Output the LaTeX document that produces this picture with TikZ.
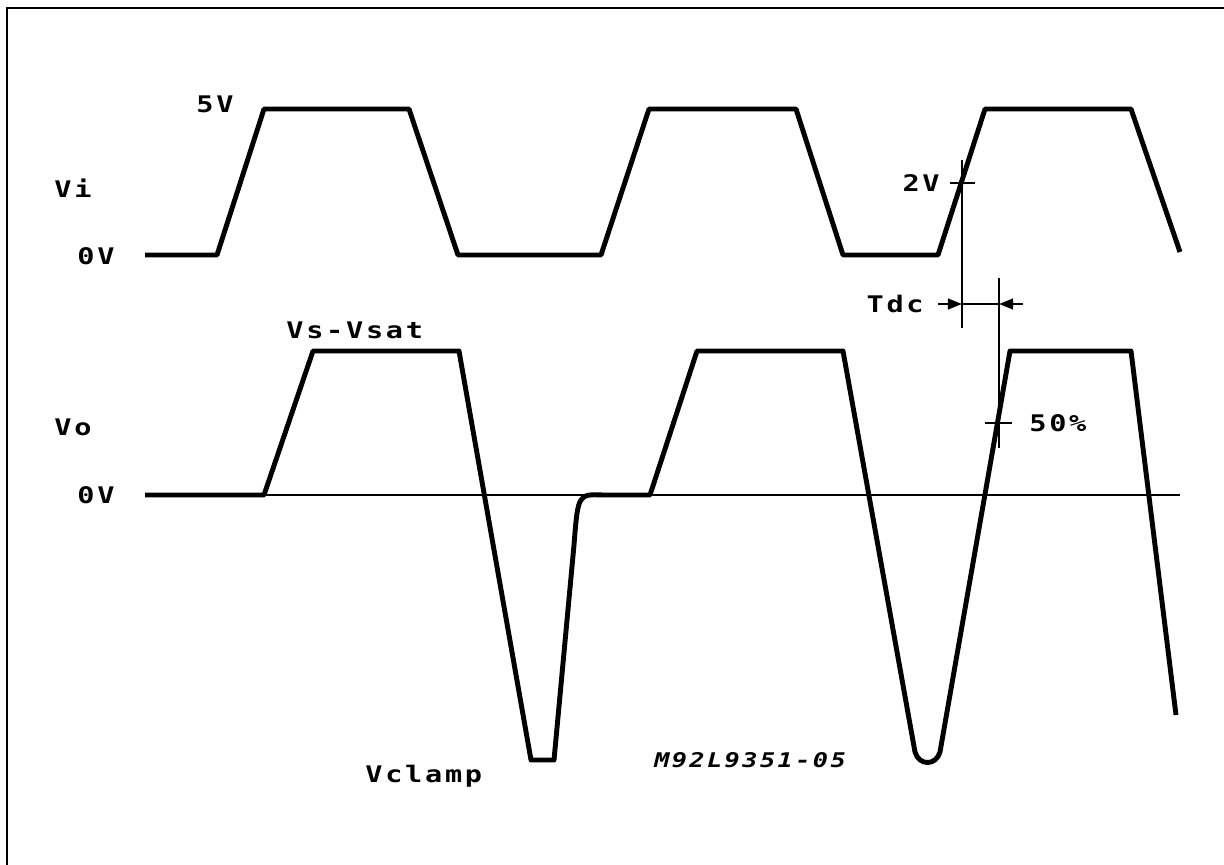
\documentclass[tikz,border=0pt]{standalone}
\usepackage{fontspec}
\newfontfamily\plotfont[LetterSpace=12, FakeStretch=1.25]{DejaVu Sans Mono}
\usetikzlibrary{arrows.meta, positioning}

\begin{document}
\begin{tikzpicture}[
  x=0.02cm, y=-0.02cm,
  wave/.style={line width=2.8pt, line join=round},
  thinline/.style={line width=1.4pt},
  marker/.style={line width=1.4pt},
  lbl/.style={font=\plotfont\bfseries\fontsize{13}{13}\selectfont, inner sep=0pt},
  refcode/.style={font=\plotfont\bfseries\itshape\fontsize{11.5}{11.5}\selectfont, inner sep=0pt}
]
\useasboundingbox (0,0) rectangle (1224,865);

% frame
\draw[line width=1.7pt] (1224,8) -- (7,8) -- (7,865);

% input Vi
\draw[wave] (145,255) -- (217,255) -- (264,109) -- (409,109) -- (458,255)
  -- (601,255) -- (649,109) -- (796,109) -- (843,255)
  -- (938,255) -- (985,109) -- (1131,109) -- (1180,252);

% output Vo
\draw[thinline] (145,495) -- (1180,495);
\draw[wave] (145,495) -- (264,495) -- (313,351) -- (459,351) -- (531,760) -- (554,760)
  -- (574,545) .. controls (578,494) .. (603,495) -- (650,495)
  -- (697,351) -- (843,351) -- (915,752)
  .. controls (919,766) and (936,766) .. (940,752)
  -- (1010,351) -- (1131,351) -- (1176,715);

% delay markers
\coordinate (top2V) at (962,160);
\coordinate (bot2V) at (962,328);
\coordinate (top50) at (999,278);
\coordinate (bot50) at (999,448);
\draw[marker] (top2V) -- (bot2V);
\draw[marker] (top50) -- (bot50);
\draw[marker] (950,183) -- (975,183);
\draw[marker] (985,423) -- (1012,423);

\coordinate (tdcL) at (938,304);
\coordinate (tdcR) at (1023,304);
\draw[marker, -{Triangle[length=8pt, width=6pt]}] (tdcL) -- (top2V |- tdcL);
\draw[marker] (top2V |- tdcL) -- (top50 |- tdcL);
\draw[marker, -{Triangle[length=8pt, width=6pt]}] (tdcR) -- (top50 |- tdcR);

% labels
\node[lbl, anchor=west] (vi) at (54,188) {Vi};
\node[lbl, anchor=west] (zeroi) at (77,256) {0V};
\node[lbl, anchor=west] (five) at (196,104) {5V};
\node[lbl, anchor=east] (twoV) at (940,183) {2V};
\node[lbl, anchor=east] (tdc) at (924,304) {Tdc};
\node[lbl, anchor=west] (vsat) at (286,330) {Vs-Vsat};
\node[lbl, anchor=west] (vo) at (54,427) {Vo};
\node[lbl, anchor=west] (zeroo) at (77,495) {0V};
\node[lbl, anchor=west] (half) at (1029,423) {50\%};
\node[lbl, anchor=west] (vclamp) at (365,776) {Vclamp};
\node[refcode] (code) at (750,760) {M92L9351-05};
\end{tikzpicture}
\end{document}
